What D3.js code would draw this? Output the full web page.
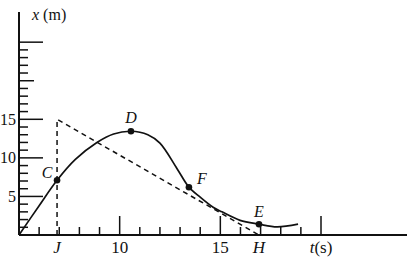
<!DOCTYPE html>
<html>
<head>
<meta charset="utf-8">
<script src="https://cdn.jsdelivr.net/npm/d3@7"></script>
<style>
  body { margin: 0; background: #fff; }
  svg { display: block; }
  text { font-family: "Liberation Serif", "DejaVu Serif", serif; fill: #111; }
</style>
</head>
<body>
<div id="chart"></div>
<script>
// curve x(t)
const curveT = [5, 6, 6.89, 7.8, 8.87, 9.7, 10.56, 11.4, 12.0, 12.85, 13.44, 14.0, 14.64, 15.08, 15.98, 16.92, 17.82, 18.86];
const curveX = [0, 3.8, 7.1, 9.8, 12.0, 13.1, 13.45, 13.0, 11.9, 8.6, 6.2, 4.9, 3.6, 3.0, 1.9, 1.4, 1.05, 1.4];

// labelled points
const pointNames = ['C', 'D', 'F', 'E'];
const pointT = [6.89, 10.56, 13.44, 16.92];
const pointX = [7.1, 13.45, 6.2, 1.4];

// dashed helper lines: vertical at J, then tangent down to H
const dashT = [6.89, 6.89, 16.92];
const dashX = [0, 15, 0];

// axis ticks
const xMinor = [6, 7, 8, 9, 11, 12, 13, 14, 16, 17, 18, 19];
const xMajor = [10, 15, 20];
const xLabels = [[6.89, 'J', true], [10, '10', false], [15, '15', false], [16.92, 'H', true]];
const yMinor = d3.range(1, 25).filter(v => v % 5 !== 0);
const yMajor = [5, 10, 15, 20, 25];
const yLabels = [5, 10, 15];

const width = 420, height = 263;
const svg = d3.select('#chart').append('svg').attr('width', width).attr('height', height);

const x = d3.scaleLinear().domain([5, 20]).range([19, 321]);
const y = d3.scaleLinear().domain([0, 15]).range([235, 119.3]);

// axes
svg.append('line').attr('x1', x(5)).attr('x2', 407).attr('y1', y(0)).attr('y2', y(0))
  .attr('stroke', '#111').attr('stroke-width', 2);
svg.append('line').attr('x1', x(5)).attr('x2', x(5)).attr('y1', y(0)).attr('y2', 12)
  .attr('stroke', '#111').attr('stroke-width', 2);

svg.append('g').selectAll('line').data(xMinor).join('line')
  .attr('x1', d => x(d)).attr('x2', d => x(d)).attr('y1', y(0)).attr('y2', y(0) - 8)
  .attr('stroke', '#111').attr('stroke-width', 1.5);
svg.append('g').selectAll('line').data(xMajor).join('line')
  .attr('x1', d => x(d)).attr('x2', d => x(d)).attr('y1', y(0)).attr('y2', y(0) - 19)
  .attr('stroke', '#111').attr('stroke-width', 1.5);

svg.append('g').selectAll('line').data(yMinor).join('line')
  .attr('x1', x(5)).attr('x2', x(5) + 9).attr('y1', d => y(d)).attr('y2', d => y(d))
  .attr('stroke', '#111').attr('stroke-width', 1.5);
svg.append('g').selectAll('line').data(yMajor).join('line')
  .attr('x1', x(5)).attr('x2', d => x(5) + (d === 20 ? 15 : 24)).attr('y1', d => y(d)).attr('y2', d => y(d))
  .attr('stroke', '#111').attr('stroke-width', 1.5);

// tick labels
svg.append('g').selectAll('text').data(yLabels).join('text')
  .attr('x', 16).attr('y', d => y(d)).attr('dy', '0.35em')
  .attr('text-anchor', 'end').attr('font-size', 16).text(d => d);

svg.append('g').selectAll('text').data(xLabels).join('text')
  .attr('x', d => x(d[0])).attr('y', 253)
  .attr('text-anchor', 'middle').attr('font-size', 17)
  .attr('font-style', d => d[2] ? 'italic' : 'normal').text(d => d[1]);

const tl = svg.append('text').attr('x', x(20)).attr('y', 253).attr('text-anchor', 'middle').attr('font-size', 17);
tl.append('tspan').attr('font-style', 'italic').text('t');
tl.append('tspan').text('(s)');

const yl = svg.append('text').attr('x', 32).attr('y', 20).attr('font-size', 16);
yl.append('tspan').attr('font-style', 'italic').text('x');
yl.append('tspan').text(' (m)');

// dashed lines
const dashData = dashT.map((t, i) => [t, dashX[i]]);
svg.append('path').datum(dashData)
  .attr('d', d3.line().x(d => x(d[0])).y(d => y(d[1])))
  .attr('fill', 'none').attr('stroke', '#111').attr('stroke-width', 1.5)
  .attr('stroke-dasharray', '5,4');

// curve
const curveData = curveT.map((t, i) => [t, curveX[i]]);
svg.append('path').datum(curveData)
  .attr('d', d3.line().x(d => x(d[0])).y(d => y(d[1])).curve(d3.curveCatmullRom))
  .attr('fill', 'none').attr('stroke', '#111').attr('stroke-width', 1.7);

// points
const pts = pointNames.map((n, i) => ({ n, t: pointT[i], v: pointX[i] }));
svg.append('g').selectAll('circle').data(pts).join('circle')
  .attr('cx', d => x(d.t)).attr('cy', d => y(d.v)).attr('r', 3.3).attr('fill', '#111');

const labelOffset = { C: [-10, -8], D: [0, -14], F: [13, -9], E: [0, -13] };
svg.append('g').selectAll('text').data(pts).join('text')
  .attr('x', d => x(d.t) + labelOffset[d.n][0]).attr('y', d => y(d.v) + labelOffset[d.n][1])
  .attr('dy', '0.35em').attr('text-anchor', 'middle')
  .attr('font-size', 16).attr('font-style', 'italic').text(d => d.n);
</script>
</body>
</html>
